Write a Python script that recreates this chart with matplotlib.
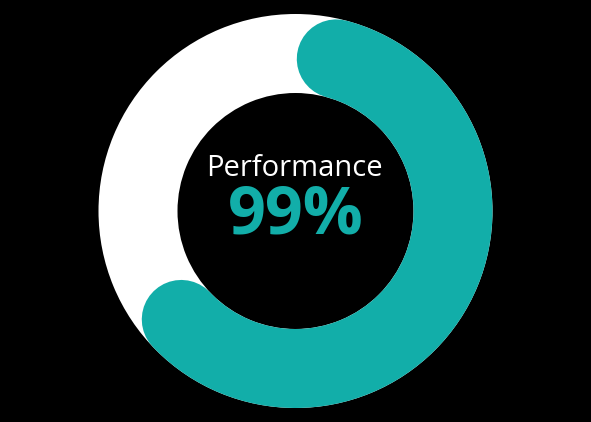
import matplotlib
matplotlib.use("Agg")
import matplotlib.pyplot as plt
import matplotlib.patches as mpatches
import numpy as np

# --- data ---
label = "Performance"
value_text = "99%"
arc_start_deg = 15.0    # clockwise from 12 o'clock (cap centre)
arc_end_deg = 226.5

# --- colours ---
BG = "black"
TRACK = "white"
TEAL = "#12aea9"

W, H, DPI = 591, 422, 100
cx, cy = 295.5, 211.0
r_out, r_in = 197.0, 118.0
r_mid = (r_out + r_in) / 2
ring_w = r_out - r_in

fig = plt.figure(figsize=(W / DPI, H / DPI), dpi=DPI, facecolor=BG)
ax = fig.add_axes([0, 0, 1, 1])
ax.set_xlim(0, W)
ax.set_ylim(H, 0)
ax.set_facecolor(BG)
ax.axis("off")

# white track
track = mpatches.Wedge((cx, cy), r_out, 0, 360, width=ring_w, facecolor=TRACK, edgecolor="none")
ax.add_patch(track)

# teal arc with round caps (drawn as thick line along the midline)
theta = np.radians(np.linspace(arc_start_deg, arc_end_deg, 400))
xs = cx + r_mid * np.sin(theta)
ys = cy - r_mid * np.cos(theta)
lw_pt = ring_w * 72.0 / DPI
ax.plot(xs, ys, color=TEAL, linewidth=lw_pt, solid_capstyle="round")

ax.text(cx - 1.5, 176.5, label, color="white", fontsize=21, family="Open Sans",
        ha="center", va="baseline")
ax.text(cx + 0.5, 234, value_text, color=TEAL, fontsize=48, family="Open Sans",
        fontweight="bold", ha="center", va="baseline")

fig.savefig("out.png", dpi=DPI, facecolor=BG)
